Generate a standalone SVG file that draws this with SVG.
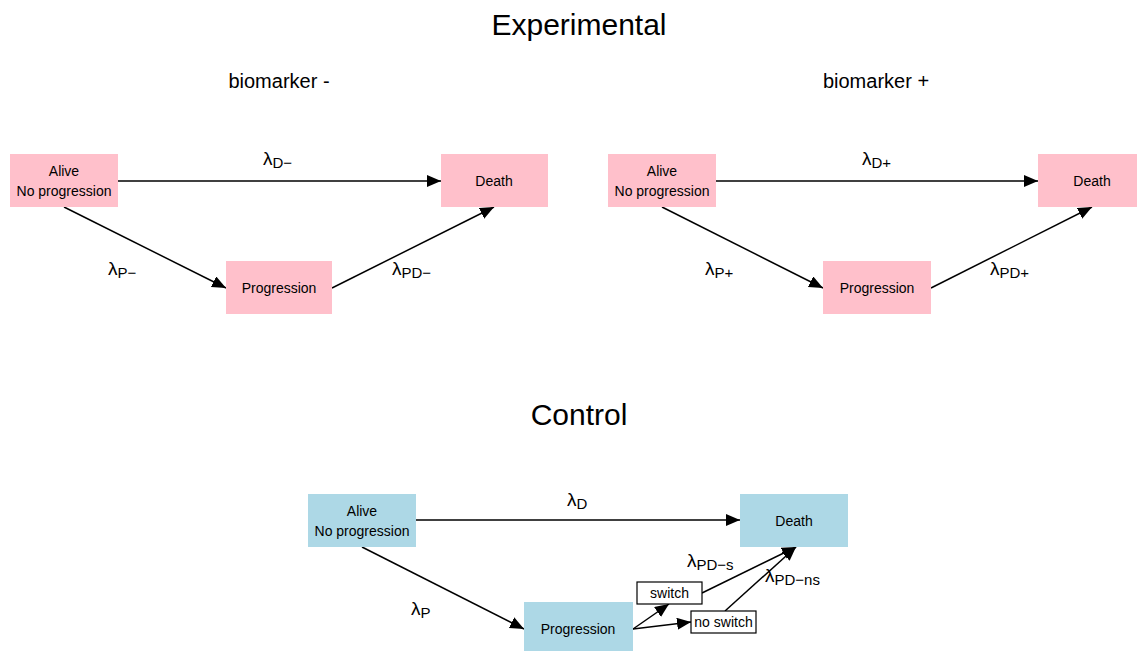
<svg xmlns="http://www.w3.org/2000/svg" width="1137" height="651" viewBox="0 0 1137 651">
  <defs>
    <marker id="arrow" markerUnits="userSpaceOnUse" markerWidth="15" markerHeight="13" refX="14" refY="6" orient="auto">
      <path d="M0,0 L14,6 L0,12 z" fill="#000"/>
    </marker>
    <style>
      text { font-family: "Liberation Sans", Arial, sans-serif; fill: #000; }
      .title { font-size: 30px; text-anchor: middle; }
      .sub { font-size: 20px; text-anchor: middle; }
      .lbl { font-size: 14px; text-anchor: middle; }
      .rate { font-size: 19px; }
      .rate tspan { font-size: 15px; }
      .exp { fill: #FFC0CB; }
      .ctl { fill: #ADD8E6; }
      .box { fill: #fff; stroke: #000; stroke-width: 1.2; }
      .edge { stroke: #000; stroke-width: 1.5; fill: none; marker-end: url(#arrow); }
    </style>
  </defs>
  <rect width="1137" height="651" fill="#fff"/>

  <text class="title" x="579" y="35">Experimental</text>
  <text class="sub" x="279" y="88">biomarker -</text>
  <text class="sub" x="876" y="88">biomarker +</text>
  <text class="title" x="579" y="425">Control</text>

  <!-- connectors -->
  <g id="connectors">
    <line class="edge" x1="118" y1="181" x2="441" y2="181"/>
    <line class="edge" x1="64" y1="207" x2="226" y2="288"/>
    <line class="edge" x1="332" y1="288" x2="494" y2="207"/>

    <line class="edge" x1="716" y1="181" x2="1038" y2="181"/>
    <line class="edge" x1="662" y1="207" x2="823" y2="288"/>
    <line class="edge" x1="931" y1="288" x2="1092" y2="207"/>

    <line class="edge" x1="416" y1="520" x2="740" y2="520"/>
    <line class="edge" x1="362" y1="547" x2="524" y2="629"/>
    <line class="edge" x1="633" y1="629" x2="669" y2="604"/>
    <line class="edge" x1="633" y1="629" x2="691" y2="622"/>
    <line class="edge" x1="702" y1="593" x2="796" y2="547"/>
    <line class="edge" x1="725" y1="611" x2="796" y2="547"/>
  </g>

  <!-- rate labels -->
  <g id="rates">
    <text class="rate" x="263" y="165">λ<tspan dy="3">D−</tspan></text>
    <text class="rate" x="108" y="275">λ<tspan dy="3">P−</tspan></text>
    <text class="rate" x="392" y="275">λ<tspan dy="3">PD−</tspan></text>

    <text class="rate" x="862" y="165">λ<tspan dy="3">D+</tspan></text>
    <text class="rate" x="705" y="275">λ<tspan dy="3">P+</tspan></text>
    <text class="rate" x="990" y="275">λ<tspan dy="3">PD+</tspan></text>

    <text class="rate" x="567" y="506">λ<tspan dy="3">D</tspan></text>
    <text class="rate" x="411" y="615">λ<tspan dy="3">P</tspan></text>
    <text class="rate" x="687" y="567">λ<tspan dy="3">PD−s</tspan></text>
    <text class="rate" x="765" y="582">λ<tspan dy="3">PD−ns</tspan></text>
  </g>

  <!-- experimental, biomarker - -->
  <g id="alive-neg">
    <rect class="exp" x="10" y="154" width="108" height="53"/>
    <text class="lbl" x="64" y="176">Alive</text>
    <text class="lbl" x="64" y="196">No progression</text>
  </g>
  <g id="death-neg">
    <rect class="exp" x="441" y="154" width="107" height="53"/>
    <text class="lbl" x="494" y="186">Death</text>
  </g>
  <g id="prog-neg">
    <rect class="exp" x="226" y="261" width="106" height="53"/>
    <text class="lbl" x="279" y="293">Progression</text>
  </g>

  <!-- experimental, biomarker + -->
  <g id="alive-pos">
    <rect class="exp" x="608" y="154" width="108" height="53"/>
    <text class="lbl" x="662" y="176">Alive</text>
    <text class="lbl" x="662" y="196">No progression</text>
  </g>
  <g id="death-pos">
    <rect class="exp" x="1038" y="154" width="108" height="53"/>
    <text class="lbl" x="1092" y="186">Death</text>
  </g>
  <g id="prog-pos">
    <rect class="exp" x="823" y="261" width="108" height="53"/>
    <text class="lbl" x="877" y="293">Progression</text>
  </g>

  <!-- control -->
  <g id="alive-ctl">
    <rect class="ctl" x="308" y="494" width="108" height="53"/>
    <text class="lbl" x="362" y="516">Alive</text>
    <text class="lbl" x="362" y="536">No progression</text>
  </g>
  <g id="death-ctl">
    <rect class="ctl" x="740" y="494" width="108" height="53"/>
    <text class="lbl" x="794" y="526">Death</text>
  </g>
  <g id="prog-ctl">
    <rect class="ctl" x="524" y="602" width="109" height="54"/>
    <text class="lbl" x="578" y="634">Progression</text>
  </g>
  <g id="switch">
    <rect class="box" x="637" y="582" width="65" height="22"/>
    <text class="lbl" x="669.5" y="598">switch</text>
  </g>
  <g id="no-switch">
    <rect class="box" x="691" y="611" width="65" height="22"/>
    <text class="lbl" x="723.5" y="627">no switch</text>
  </g>
</svg>
